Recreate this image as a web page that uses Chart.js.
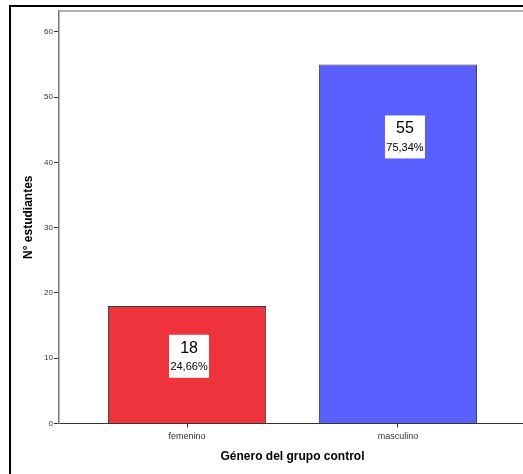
<!DOCTYPE html>
<html>
<head>
<meta charset="utf-8">
<script src="https://cdn.jsdelivr.net/npm/chart.js@4/dist/chart.umd.min.js"></script>
<style>
  html, body { margin: 0; padding: 0; background: #fff; overflow: hidden; }
  #wrap { width: 530px; height: 474px; }
</style>
</head>
<body>
<div id="wrap"><canvas id="chart" width="530" height="474"></canvas></div>
<script>
const categories = ["femenino", "masculino"]
const counts = [18, 55]
const barColors = ["#EF333D", "#5A5FFF"]
const yTicks = [0, 10, 20, 30, 40, 50, 60]

const total = counts.reduce((a, b) => a + b, 0)

// white label boxes drawn inside the bars (count + percent)
const barLabels = {
  id: "barLabels",
  afterDatasetsDraw(chart, args, opts) {
    const ctx = chart.ctx
    const yScale = chart.scales.y
    chart.getDatasetMeta(0).data.forEach((bar, i) => {
      const cx = bar.x + opts.shift[i]
      const cy = yScale.getPixelForValue(opts.at[i])
      ctx.save()
      ctx.fillStyle = "#fff"
      ctx.fillRect(cx - 20, cy - 21.5, 40, 43)
      ctx.fillStyle = "#000"
      ctx.textAlign = "center"
      ctx.textBaseline = "middle"
      ctx.font = "16px 'Liberation Sans', Arial, sans-serif"
      ctx.fillText(String(counts[i]), cx, cy - 8)
      ctx.font = "11px 'Liberation Sans', Arial, sans-serif"
      const pct = (counts[i] / total * 100).toFixed(2).replace(".", ",") + "%"
      ctx.fillText(pct, cx, cy + 11)
      ctx.restore()
    })
  }
}

// outer black frame and grey top border of the plot area
const frame = {
  id: "frame",
  beforeDraw(chart) {
    const ctx = chart.ctx
    ctx.save()
    ctx.fillStyle = "#000"
    ctx.fillRect(9, 5, 2, 480)
    ctx.fillRect(9, 5, 530, 2)
    ctx.restore()
  },
  afterDraw(chart) {
    const { left, right, top } = chart.chartArea
    const ctx = chart.ctx
    ctx.save()
    ctx.strokeStyle = "#999"
    ctx.lineWidth = 1.5
    ctx.beginPath()
    ctx.moveTo(left, top)
    ctx.lineTo(right + 10, top)
    ctx.stroke()
    ctx.restore()
  }
}

const font = "'Liberation Sans', Arial, sans-serif"

new Chart(document.getElementById("chart"), {
  type: "bar",
  data: {
    datasets: [{
      data: counts.map((v, i) => ({ x: i, y: v })),
      backgroundColor: barColors,
      borderColor: "#3a3a3a",
      borderWidth: 1,
      barPercentage: 0.75,
      categoryPercentage: 1
    }]
  },
  options: {
    responsive: false,
    animation: false,
    layout: { padding: { left: 0, top: 11, right: 4, bottom: 0 } },
    plugins: {
      legend: { display: false },
      tooltip: { enabled: false },
      barLabels: { at: [10.3, 43.9], shift: [2, 7] }
    },
    scales: {
      x: {
        type: "linear",
        offset: false,
        min: -0.607,
        max: 1.607,
        afterBuildTicks: (scale) => { scale.ticks = categories.map((c, i) => ({ value: i })) },
        afterFit: (scale) => { scale.height = 50.5 },
        border: { color: "#333", width: 1 },
        grid: { offset: false, drawOnChartArea: false, tickLength: 4, color: "#333" },
        ticks: {
          padding: 4,
          color: "#333",
          font: { family: font, size: 9 },
          callback: (v) => categories[v]
        },
        title: {
          display: true,
          text: "Género del grupo control",
          color: "#000",
          font: { family: font, size: 12, weight: "bold" },
          padding: { top: 0, bottom: 9.8 }
        }
      },
      y: {
        min: 0,
        max: 63.2,
        afterBuildTicks: (scale) => { scale.ticks = yTicks.map(v => ({ value: v })) },
        afterFit: (scale) => { scale.width = 59 },
        border: { color: "#777", width: 1.5 },
        grid: { drawOnChartArea: false, tickLength: 5, color: "#333" },
        ticks: {
          padding: 1,
          color: "#333",
          font: { family: font, size: 8 }
        },
        title: {
          display: true,
          text: "N° estudiantes",
          color: "#000",
          font: { family: font, size: 12, weight: "bold" },
          padding: { top: 21.5, bottom: 0 }
        }
      }
    }
  },
  plugins: [barLabels, frame]
})
</script>
</body>
</html>
